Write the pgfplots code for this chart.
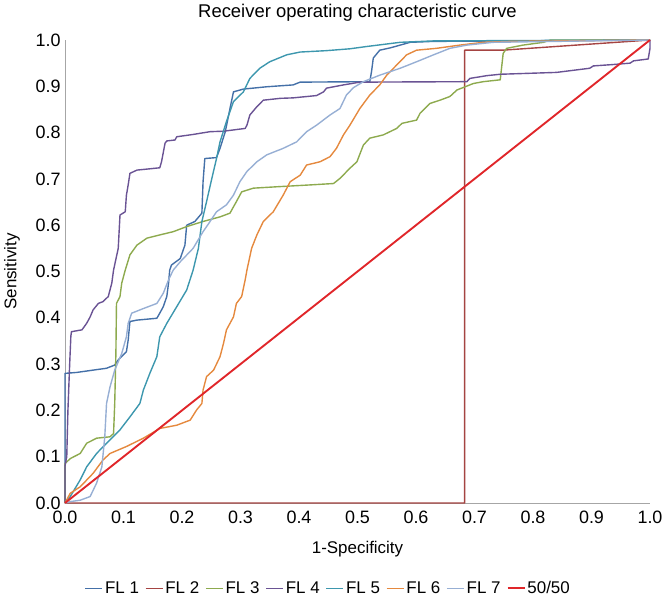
\documentclass[border=0pt]{standalone}
\usepackage{fontspec}
\setmainfont{Liberation Sans}
\usepackage{pgfplots}
\pgfplotsset{compat=1.18}
\definecolor{cA}{HTML}{4470A8}
\definecolor{cB}{HTML}{A54442}
\definecolor{cC}{HTML}{8DAA4E}
\definecolor{cD}{HTML}{6A5394}
\definecolor{cE}{HTML}{3D97AE}
\definecolor{cF}{HTML}{E5893E}
\definecolor{cG}{HTML}{97AFD4}
\definecolor{cH}{HTML}{E0262A}
\begin{document}
\begin{tikzpicture}
\path[use as bounding box] (-65bp,-105bp) rectangle (599bp,503bp);
\begin{axis}[
  at={(0,0)}, anchor=origin,
  scale only axis, width=585bp, height=463bp,
  xmin=0, xmax=1, ymin=0, ymax=1,
  clip=false,
  axis lines=left,
  axis line style={draw=gray!70, -},
  major tick length=0pt,
  xtick={0,0.1,...,1.01}, ytick={0,0.1,...,1.01},
  /pgf/number format/assume math mode=true,
  /pgf/number format/.cd, fixed, fixed zerofill, precision=1, /pgfplots/.cd,
  tick label style={font=\fontsize{18}{20}\selectfont},
  xticklabel style={yshift=-4bp},
  yticklabel style={xshift=-1bp},
  xlabel={1-Specificity}, ylabel={Sensitivity},
  label style={font=\fontsize{17}{20}\selectfont},
  xlabel style={at={(axis description cs:0.5,0)}, anchor=center, yshift=-46bp},
  ylabel style={at={(axis description cs:0,0.5)}, anchor=center, xshift=0bp, yshift=53bp},
  title={Receiver operating characteristic curve},
  title style={font=\fontsize{18.5}{20}\selectfont, at={(axis description cs:0.5,1)}, anchor=center, yshift=21bp},
  legend style={draw=none, fill=none, at={(0.45,-0.184)}, anchor=center,
    font=\fontsize{17}{20}\selectfont, inner sep=0pt,
    /tikz/every even column/.append style={column sep=4bp}},
  legend columns=-1,
  legend image code/.code={\draw[#1] (0bp,0bp) -- (17bp,0bp);},
  every axis plot/.append style={line width=1.4pt, line join=round},
]
\addplot[cA] coordinates {(0,0)(0,0.28)(0.02,0.282)(0.048,0.287)(0.071,0.291)(0.085,0.298)(0.091,0.309)(0.105,0.327)(0.108,0.352)(0.111,0.392)(0.123,0.395)(0.157,0.399)(0.162,0.410)(0.168,0.424)(0.174,0.446)(0.177,0.475)(0.179,0.503)(0.182,0.514)(0.197,0.528)(0.205,0.557)(0.208,0.600)(0.222,0.608)(0.234,0.626)(0.236,0.694)(0.239,0.744)(0.259,0.746)(0.265,0.766)(0.274,0.802)(0.282,0.852)(0.288,0.888)(0.305,0.894)(0.345,0.899)(0.390,0.903)(0.402,0.909)(0.521,0.910)(0.524,0.932)(0.527,0.961)(0.538,0.978)(0.556,0.983)(0.590,0.995)(0.63,0.997)(1,1)};
\addlegendentry{FL 1}
\addplot[cB] coordinates {(0,0)(0.683,0)(0.683,0.978)(0.748,0.978)(1,1)};
\addlegendentry{FL 2}
\addplot[cC] coordinates {(0,0)(0,0.085)(0.009,0.096)(0.026,0.107)(0.037,0.129)(0.054,0.140)(0.077,0.143)(0.083,0.150)(0.085,0.215)(0.087,0.323)(0.088,0.431)(0.094,0.446)(0.097,0.475)(0.103,0.503)(0.111,0.536)(0.123,0.557)(0.140,0.572)(0.162,0.579)(0.185,0.586)(0.208,0.597)(0.236,0.608)(0.265,0.618)(0.282,0.626)(0.293,0.651)(0.302,0.672)(0.322,0.680)(0.362,0.683)(0.419,0.687)(0.459,0.690)(0.470,0.701)(0.487,0.723)(0.499,0.737)(0.510,0.773)(0.521,0.788)(0.544,0.795)(0.567,0.809)(0.576,0.820)(0.601,0.827)(0.607,0.842)(0.624,0.863)(0.641,0.870)(0.658,0.878)(0.670,0.892)(0.684,0.899)(0.698,0.906)(0.715,0.910)(0.744,0.914)(0.749,0.971)(0.755,0.982)(0.783,0.989)(0.818,0.995)(0.83,1)(1,1)};
\addlegendentry{FL 3}
\addplot[cD] coordinates {(0,0)(0,0.08)(0.003,0.10)(0.005,0.2)(0.008,0.3)(0.010,0.36)(0.011,0.370)(0.029,0.374)(0.037,0.388)(0.043,0.402)(0.048,0.417)(0.057,0.431)(0.065,0.435)(0.074,0.446)(0.080,0.475)(0.083,0.503)(0.091,0.550)(0.094,0.622)(0.103,0.629)(0.105,0.665)(0.108,0.687)(0.111,0.712)(0.123,0.719)(0.162,0.724)(0.165,0.737)(0.171,0.777)(0.174,0.782)(0.188,0.784)(0.191,0.791)(0.219,0.796)(0.248,0.802)(0.271,0.803)(0.308,0.809)(0.311,0.816)(0.316,0.838)(0.328,0.856)(0.339,0.870)(0.368,0.874)(0.390,0.875)(0.430,0.880)(0.442,0.888)(0.447,0.896)(0.476,0.903)(0.504,0.909)(0.687,0.910)(0.692,0.917)(0.721,0.923)(0.744,0.926)(0.840,0.930)(0.897,0.939)(0.903,0.944)(0.937,0.947)(0.966,0.950)(0.972,0.955)(0.997,0.959)(1,0.982)(1,1)};
\addlegendentry{FL 4}
\addplot[cE] coordinates {(0,0)(0.009,0.014)(0.026,0.05)(0.037,0.078)(0.054,0.107)(0.071,0.129)(0.094,0.158)(0.111,0.186)(0.128,0.215)(0.134,0.244)(0.145,0.280)(0.157,0.316)(0.162,0.359)(0.174,0.388)(0.191,0.424)(0.208,0.460)(0.219,0.503)(0.228,0.550)(0.234,0.608)(0.242,0.651)(0.251,0.701)(0.259,0.744)(0.265,0.780)(0.276,0.824)(0.288,0.867)(0.305,0.888)(0.316,0.917)(0.333,0.939)(0.350,0.953)(0.379,0.968)(0.402,0.974)(0.447,0.977)(0.487,0.981)(0.516,0.986)(0.573,0.995)(0.63,0.998)(1,1)};
\addlegendentry{FL 5}
\addplot[cF] coordinates {(0,0)(0.009,0.021)(0.026,0.035)(0.048,0.064)(0.065,0.093)(0.077,0.107)(0.105,0.122)(0.134,0.140)(0.162,0.161)(0.191,0.168)(0.214,0.179)(0.225,0.201)(0.234,0.215)(0.236,0.244)(0.242,0.273)(0.254,0.287)(0.265,0.316)(0.271,0.345)(0.276,0.374)(0.288,0.402)(0.293,0.431)(0.302,0.446)(0.308,0.482)(0.311,0.503)(0.319,0.550)(0.328,0.579)(0.339,0.608)(0.356,0.629)(0.373,0.665)(0.385,0.694)(0.402,0.708)(0.413,0.730)(0.436,0.737)(0.453,0.748)(0.464,0.766)(0.476,0.795)(0.487,0.816)(0.504,0.852)(0.521,0.881)(0.538,0.903)(0.550,0.924)(0.567,0.946)(0.584,0.968)(0.601,0.978)(0.635,0.982)(0.675,0.989)(0.715,0.995)(0.761,0.997)(1,1)};
\addlegendentry{FL 6}
\addplot[cG] coordinates {(0,0)(0.009,0.003)(0.026,0.006)(0.043,0.014)(0.054,0.043)(0.063,0.078)(0.068,0.143)(0.071,0.215)(0.077,0.251)(0.085,0.287)(0.097,0.323)(0.105,0.359)(0.108,0.388)(0.114,0.410)(0.134,0.420)(0.157,0.431)(0.168,0.453)(0.177,0.482)(0.185,0.503)(0.197,0.521)(0.219,0.550)(0.236,0.586)(0.248,0.608)(0.259,0.629)(0.276,0.644)(0.288,0.665)(0.299,0.694)(0.311,0.716)(0.328,0.737)(0.345,0.752)(0.373,0.766)(0.396,0.780)(0.413,0.802)(0.430,0.816)(0.453,0.838)(0.470,0.852)(0.481,0.881)(0.493,0.897)(0.510,0.910)(0.538,0.924)(0.573,0.939)(0.601,0.953)(0.630,0.968)(0.658,0.982)(0.687,0.989)(0.732,0.995)(1,1)};
\addlegendentry{FL 7}
\addplot[cH, line width=1.9pt] coordinates {(0,0)(1,1)};
\addlegendentry{50/50}
\end{axis}
\end{tikzpicture}
\end{document}
